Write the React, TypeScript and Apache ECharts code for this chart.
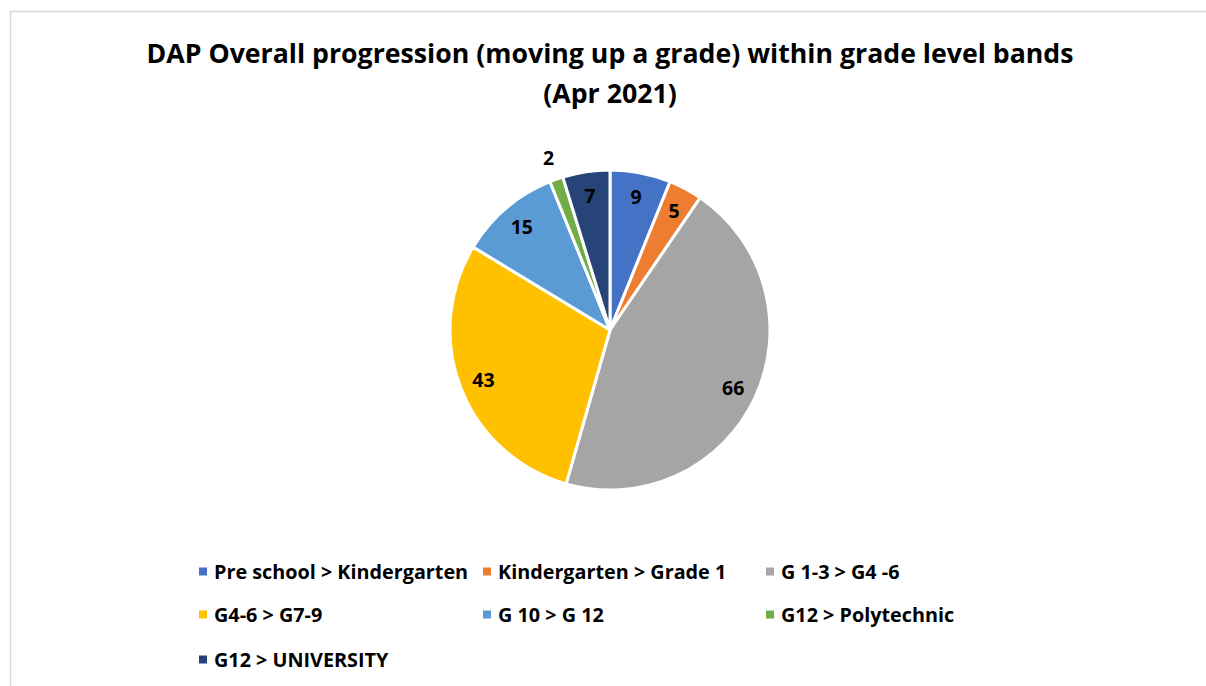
import React, { useEffect, useRef } from "react";
import * as echarts from "echarts";

const titleLines = [
  "DAP Overall progression (moving up a grade) within grade level bands",
  "(Apr 2021)",
];
const categories = [
  "Pre school > Kindergarten",
  "Kindergarten > Grade 1",
  "G 1-3 > G4 -6",
  "G4-6 > G7-9",
  "G 10 > G 12",
  "G12 > Polytechnic",
  "G12 > UNIVERSITY",
];
const values = [9, 5, 66, 43, 15, 2, 7];
const colors = ["#4472C4", "#ED7D31", "#A5A5A5", "#FFC000", "#5B9BD5", "#70AD47", "#264478"];

const FONT = "'Open Sans', sans-serif";

export default function App() {
  const ref = useRef<HTMLDivElement>(null);
  useEffect(() => {
    document.body.style.margin = "0";
    const chart = echarts.init(ref.current!, null, { renderer: "svg" });
    const colLeft = [197, 481, 764];
    const rowCenter = [572, 615, 660];
    const legends = categories.map((name, i) => ({
      data: [name],
      left: colLeft[i % 3],
      top: rowCenter[Math.floor(i / 3)] - 13.5,
      icon: "rect",
      itemWidth: 10,
      itemHeight: 10,
      selectedMode: false,
      padding: 0,
      textStyle: {
        fontFamily: FONT,
        fontWeight: "bold",
        fontSize: 19.8,
        lineHeight: 26,
        color: "#000",
        padding: [0, 0, 0, 1],
      },
    }));
    const center = [610, 330];
    const labelText = {
      fontFamily: FONT,
      fontWeight: "bold",
      fontSize: 19.5,
      color: "#000",
    };
    chart.setOption({
      animation: false,
      color: colors,
      title: {
        text: titleLines.join("\n"),
        left: 605,
        textAlign: "center",
        top: 27,
        textStyle: { fontFamily: FONT, fontWeight: "bold", fontSize: 26.7, lineHeight: 40, color: "#000" },
      },
      legend: legends,
      graphic: [
        {
          type: "polyline",
          shape: { points: [[10.5, 700], [10.5, 11.5], [1210, 11.5]] },
          style: { stroke: "#D9D9D9", lineWidth: 1.5, fill: "none" },
          silent: true,
        },
      ],
      series: [
        {
          type: "pie",
          center,
          radius: [0, 160],
          startAngle: 90,
          clockwise: true,
          label: { show: false },
          labelLine: { show: false },
          itemStyle: { borderColor: "#fff", borderWidth: 3 },
          data: categories.map((name, i) => ({ name, value: values[i] })),
        },
        {
          type: "pie",
          center,
          radius: [106, 160],
          startAngle: 90,
          clockwise: true,
          silent: true,
          itemStyle: { color: "transparent" },
          label: { show: true, position: "inside", formatter: "{c}", ...labelText },
          labelLine: { show: false },
          data: categories.map((name, i) => ({
            name: name + " ",
            value: values[i],
            label: { show: values[i] >= 3 },
          })),
        },
        {
          type: "pie",
          center,
          radius: [170, 190],
          startAngle: 90,
          clockwise: true,
          silent: true,
          itemStyle: { color: "transparent" },
          label: { show: true, position: "inside", formatter: "{c}", ...labelText },
          labelLine: { show: false },
          data: categories.map((name, i) => ({
            name: name + "  ",
            value: values[i],
            label: { show: values[i] < 3 },
          })),
        },
      ],
    });
    return () => chart.dispose();
  }, []);
  return <div ref={ref} style={{ width: 1206, height: 686 }} />;
}
